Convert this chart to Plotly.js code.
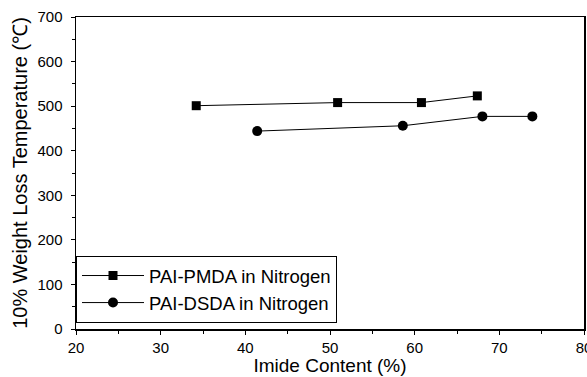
<!DOCTYPE html>
<html>
<head>
<meta charset="utf-8">
<script src="https://cdn.plot.ly/plotly-3.0.1.min.js"></script>
<style>
  html, body { margin: 0; padding: 0; background: #fff; }
  #chart { width: 587px; height: 377px; }
</style>
</head>
<body>
<div id="chart"></div>
<script>
// Imide content (%) and 10% weight-loss temperature (°C) for each series
const pmdaImide = [34.2, 50.9, 60.8, 67.4];
const pmdaTemp = [501, 508, 508, 523];
const dsdaImide = [41.4, 58.6, 68.0, 73.9];
const dsdaTemp = [444, 456, 477, 477];

const xTicks = [20, 30, 40, 50, 60, 70, 80];
const yTicks = [0, 100, 200, 300, 400, 500, 600, 700];

const font = { family: 'Liberation Sans, Arial, sans-serif', color: '#000' };
const withSize = (s) => Object.assign({ size: s }, font);

const traces = [
  {
    x: pmdaImide, y: pmdaTemp, name: 'PAI-PMDA in Nitrogen',
    mode: 'lines+markers', type: 'scatter',
    line: { color: '#000', width: 1 },
    marker: { symbol: 'square', size: 9, color: '#000' }
  },
  {
    x: dsdaImide, y: dsdaTemp, name: 'PAI-DSDA in Nitrogen',
    mode: 'lines+markers', type: 'scatter',
    line: { color: '#000', width: 1 },
    marker: { symbol: 'circle', size: 10, color: '#000' }
  }
];

const layout = {
  width: 587, height: 377,
  margin: { l: 76, r: 3, t: 17, b: 48 },
  paper_bgcolor: '#fff', plot_bgcolor: '#fff',
  font: withSize(15),
  showlegend: true,
  legend: {
    x: 0, y: 0.234, xanchor: 'left', yanchor: 'top',
    bgcolor: '#fff', bordercolor: '#000', borderwidth: 1,
    font: withSize(18.5),
    itemwidth: 62, tracegroupgap: 0
  },
  xaxis: {
    range: [20, 80], tickvals: xTicks, ticktext: xTicks.map(String),
    showgrid: false, zeroline: false,
    showline: true, linecolor: '#000', linewidth: 1.5, mirror: true,
    ticks: 'outside', ticklen: 4, tickwidth: 1, tickcolor: '#000',
    minor: { dtick: 5, ticks: 'outside', ticklen: 3, tickcolor: '#000', showgrid: false },
    tickfont: withSize(15), ticklabeloverflow: 'allow',
    title: { text: 'Imide Content (%)', font: withSize(19), standoff: 2 }
  },
  yaxis: {
    range: [0, 700], tickvals: yTicks, ticktext: yTicks.map(String),
    showgrid: false, zeroline: false,
    showline: true, linecolor: '#000', linewidth: 1.5, mirror: true,
    ticks: 'outside', ticklen: 4, tickwidth: 1, tickcolor: '#000',
    minor: { dtick: 50, ticks: 'outside', ticklen: 3, tickcolor: '#000', showgrid: false },
    tickfont: withSize(15), ticklabelstandoff: 5,
    title: { text: '10% Weight Loss Temperature (℃)', font: withSize(20), standoff: 4 }
  }
};

Plotly.newPlot('chart', traces, layout, { displayModeBar: false, staticPlot: true });
</script>
</body>
</html>
